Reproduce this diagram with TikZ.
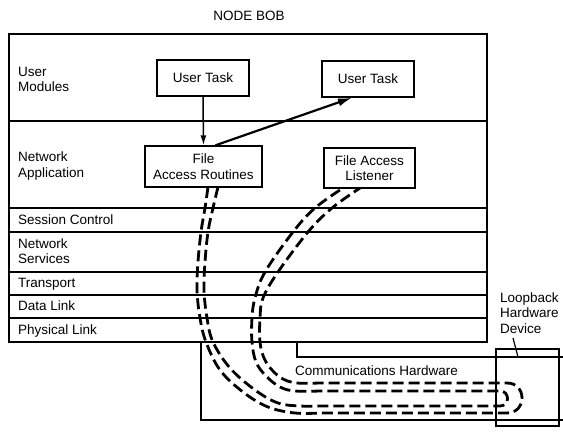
\documentclass[tikz,border=0pt]{standalone}
\usepackage{fontspec}
\setmainfont{Liberation Sans}
\usetikzlibrary{arrows.meta}
\begin{document}
\begin{tikzpicture}[x=1pt,y=-1pt,
  font=\fontsize{13.5}{15.5}\selectfont,
  lay/.style={line width=1.3pt},
  box/.style={draw, line width=1.4pt, inner sep=0pt, align=center},
  lbl/.style={anchor=west, align=left, inner sep=0pt},
  lblb/.style={anchor=base west, inner sep=0pt},
  pipe/.style={line width=2.8pt, dash pattern=on 11pt off 5pt},
  hw/.style={line width=1.6pt}]
\useasboundingbox (0,0) rectangle (563,438);

% title
\node[inner sep=0pt] (title) at (249,16) {NODE BOB};

% layer stack
\draw[lay] (9,34) rectangle (487,342);
\foreach \yy in {121,208,232,272,295,318} \draw[lay] (9,\yy) -- (487,\yy);

\node[lbl] (lum) at (18,79.5) {User\\Modules};
\node[lbl] (lna) at (18,166) {Network\\Application};
\node[lblb] (lsc) at (18,225) {Session Control};
\node[lbl] (lns) at (18,251) {Network\\Services};
\node[lblb] (ltr) at (18,288) {Transport};
\node[lblb] (ldl) at (18,311) {Data Link};
\node[lblb] (lpl) at (18,335) {Physical Link};

% boxes
\node[box, minimum width=92pt, minimum height=36pt] (UT1) at (203,78) {User Task};
\node[box, minimum width=92pt, minimum height=36pt] (UT2) at (368,79) {User Task};
\node[box, minimum width=117pt, minimum height=41pt] (FAR) at (203.5,166.5) {File\\Access Routines};
\node[box, minimum width=91pt, minimum height=40pt] (FAL) at (369.5,168) {File Access\\Listener};

% arrows
\draw[line width=1.5pt, -{Latex[length=10pt,width=6pt]}] (UT1.south) -- (FAR.north);
\draw[line width=2.2pt, -{Latex[length=14pt,width=8pt]}] ([xshift=12pt]FAR.north) -- ([xshift=-16pt]UT2.south);

% communications hardware
\draw[hw] (201,342) -- (201,420) -- (563,420);
\draw[hw] (297,342) -- (297,357) -- (563,357);
\node[lbl] (lch) at (295,371) {Communications Hardware};

% loopback device
\node[draw, hw, inner sep=0pt, minimum width=63pt, minimum height=77pt] (LB) at (527.5,387.5) {};
\node[lbl] (llb) at (500,313) {Loopback\\Hardware\\Device};
\coordinate (pA) at (513,338);
\coordinate (pB) at (518,357);
\draw[line width=1.2pt] (pA) -- (pB);

% dashed pipes
\draw[pipe] plot[smooth, tension=0.6] coordinates {(208,187) (205,208) (201,232) (198,262) (197,290) (200,318) (206,342) (220,370) (243,392) (268,407) (295,413) (320,413)}
  -- (507,413) .. controls (527,413) and (527,383) .. (507,383)
  -- plot[smooth, tension=0.6] coordinates {(320,383) (297,383) (283,379) (272,370) (264,358) (260,342) (260,318) (263,298) (278,272) (308,232) (332,208) (360,188)};
\draw[pipe] plot[smooth, tension=0.6] coordinates {(218,187) (213,208) (208,232) (205,262) (204,290) (207,318) (213,342) (230,368) (255,390) (278,403) (300,406) (320,406)}
  -- (500,406) .. controls (510,406) and (510,391) .. (500,391)
  -- plot[smooth, tension=0.6] coordinates {(320,391) (295,391) (280,387) (266,376) (256,362) (252,342) (252,318) (255,298) (265,272) (293,232) (315,208) (343,188)};
\end{tikzpicture}
\end{document}
